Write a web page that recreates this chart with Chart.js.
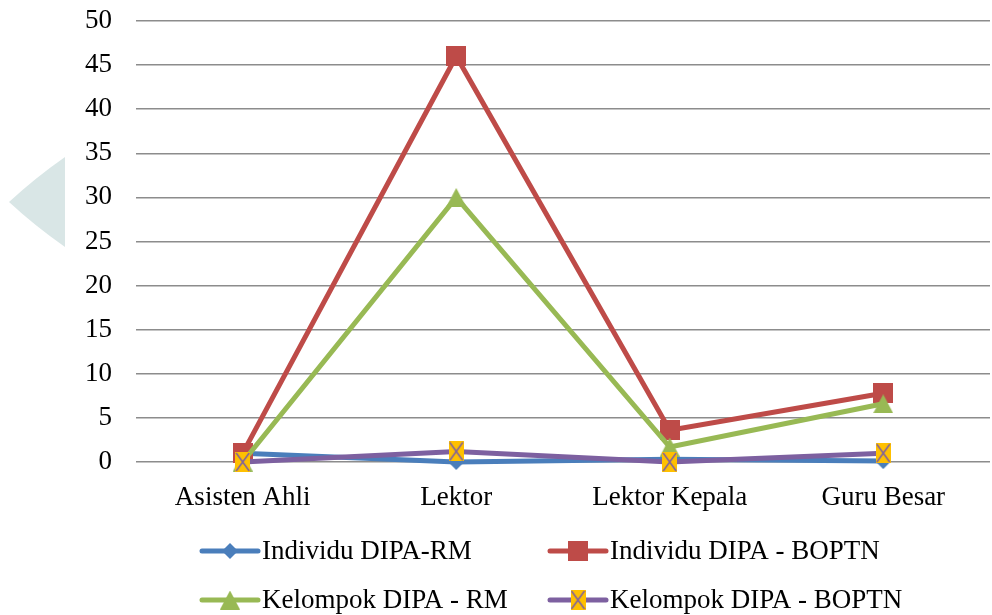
<!DOCTYPE html>
<html>
<head>
<meta charset="utf-8">
<script src="https://cdn.jsdelivr.net/npm/chart.js@4/dist/chart.umd.min.js"></script>
<style>
html,body{margin:0;padding:0;background:#fff;}
#wrap{position:relative;width:992px;height:615px;}
</style>
</head>
<body>
<div id="wrap"><canvas id="c" width="992" height="615"></canvas></div>
<script>
const categories = ["Asisten Ahli", "Lektor", "Lektor Kepala", "Guru Besar"];
const individuRM = [1, 0, 0.3, 0.1];
const individuBOPTN = [1, 46, 3.6, 7.8];
const kelompokRM = [0, 30, 1.7, 6.6];
const kelompokBOPTN = [0, 1.2, 0, 1];
const yTicks = [0, 5, 10, 15, 20, 25, 30, 35, 40, 45, 50];

const FONT = "'Liberation Serif', serif";

function mk(w, h, draw) {
  const c = document.createElement('canvas');
  c.width = w; c.height = h;
  draw(c.getContext('2d'), w, h);
  return c;
}
const diamond = mk(16, 16, (g, w, h) => {
  g.fillStyle = '#4a7ebb';
  g.beginPath(); g.moveTo(w/2, 0); g.lineTo(w, h/2); g.lineTo(w/2, h); g.lineTo(0, h/2); g.closePath(); g.fill();
});
const square = mk(20, 20, (g, w, h) => {
  g.fillStyle = '#be4b48'; g.fillRect(0, 0, w, h);
});
const tri = mk(20, 19, (g, w, h) => {
  g.fillStyle = '#98b954';
  g.beginPath(); g.moveTo(w/2, 0); g.lineTo(w, h); g.lineTo(0, h); g.closePath(); g.fill();
});
const xbox = mk(15, 20, (g, w, h) => {
  g.fillStyle = '#ffc000'; g.fillRect(0, 0, w, h);
  g.strokeStyle = '#7d60a0'; g.lineWidth = 1.5;
  g.beginPath(); g.moveTo(1, 1); g.lineTo(w-1, h-1); g.moveTo(w-1, 1); g.lineTo(1, h-1); g.stroke();
});

const seriesDefs = [
  {label: 'Individu DIPA-RM', data: individuRM, color: '#4a7ebb', marker: diamond, order: 4},
  {label: 'Individu DIPA - BOPTN', data: individuBOPTN, color: '#be4b48', marker: square, order: 3},
  {label: 'Kelompok DIPA - RM', data: kelompokRM, color: '#98b954', marker: tri, order: 2},
  {label: 'Kelompok DIPA - BOPTN', data: kelompokBOPTN, color: '#7d60a0', marker: xbox, order: 1}
];

const watermark = {
  id: 'watermark',
  beforeDraw(chart) {
    const g = chart.ctx;
    g.save();
    g.fillStyle = '#d9e6e6';
    g.beginPath();
    g.moveTo(65, 157);
    g.quadraticCurveTo(35, 178, 9, 202);
    g.quadraticCurveTo(35, 226, 65, 247);
    g.closePath();
    g.fill();
    g.restore();
  }
};

const customLegend = {
  id: 'customLegend',
  afterDraw(chart) {
    const g = chart.ctx;
    const pos = [[200, 551], [548, 551], [200, 600], [548, 600]];
    g.save();
    chart.data.datasets.forEach((ds, i) => {
      const [x, y] = pos[i];
      g.strokeStyle = ds.borderColor; g.lineWidth = 5; g.lineCap = 'round';
      g.beginPath(); g.moveTo(x + 2, y); g.lineTo(x + 58, y); g.stroke();
      const m = ds.pointStyle;
      g.drawImage(m, x + 30 - m.width/2, y - m.height/2);
      g.fillStyle = '#000';
      g.font = "27px " + FONT;
      g.textBaseline = 'middle';
      g.textAlign = 'left';
      g.fillText(ds.label, x + 62, y + 1);
    });
    g.restore();
  }
};

new Chart(document.getElementById('c'), {
  type: 'line',
  data: {
    labels: categories,
    datasets: seriesDefs.map(s => ({
      label: s.label,
      data: s.data,
      borderColor: s.color,
      backgroundColor: s.color,
      borderWidth: 5,
      pointStyle: s.marker,
      pointRadius: 10,
      tension: 0,
      order: s.order,
      clip: false
    }))
  },
  options: {
    responsive: false,
    animation: false,
    layout: {autoPadding: false, padding: {top: 21, right: 2, bottom: 100, left: 0}},
    plugins: {legend: {display: false}, tooltip: {enabled: false}},
    scales: {
      x: {
        offset: true,
        grid: {display: false, drawTicks: false},
        border: {display: false},
        ticks: {color: '#000', font: {family: FONT, size: 27}, padding: 20, maxRotation: 0},
        afterFit: s => { s.height = 53; s.paddingLeft = 0; s.paddingRight = 0; }
      },
      y: {
        min: 0, max: 50,
        afterBuildTicks: s => { s.ticks = yTicks.map(v => ({value: v})); },
        grid: {color: '#8c8c8c', lineWidth: 1.5, drawTicks: false},
        border: {display: false},
        ticks: {color: '#000', font: {family: FONT, size: 27}, padding: 24},
        afterFit: s => { s.width = 136; s.paddingTop = 0; s.paddingBottom = 0; }
      }
    }
  },
  plugins: [watermark, customLegend]
});
</script>
</body>
</html>
